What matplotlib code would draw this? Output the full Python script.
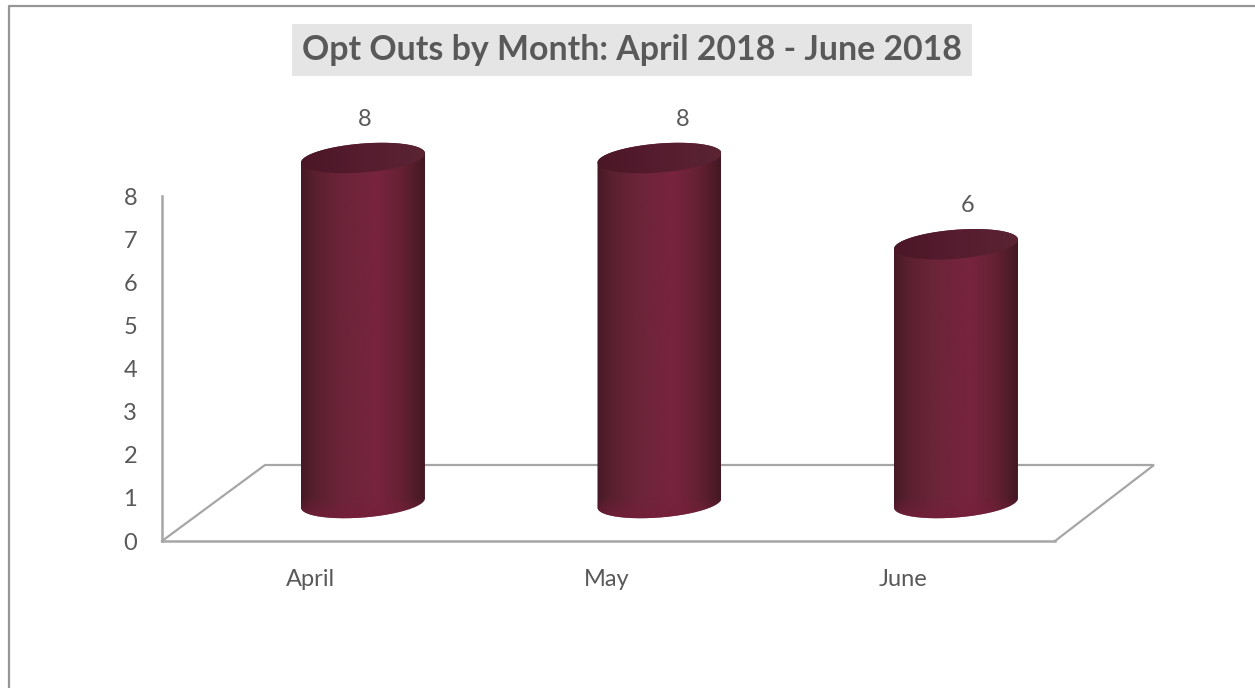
import numpy as np
import matplotlib
matplotlib.use("Agg")
import matplotlib.pyplot as plt
from matplotlib.colors import LinearSegmentedColormap, to_rgb
from matplotlib.lines import Line2D
from matplotlib.patches import PathPatch
from matplotlib.path import Path

months = ["April", "May", "June"]
opt_outs = [8, 8, 6]
y_ticks = [0, 1, 2, 3, 4, 5, 6, 7, 8]
title = "Opt Outs by Month: April 2018 - June 2018"

plt.rcParams["font.family"] = ["Lato", "DejaVu Sans"]
TEXT = "#595959"
GREY = "#a6a6a6"

W, H = 1255, 688
fig = plt.figure(figsize=(W / 100, H / 100), dpi=100)
ax = fig.add_axes([162 / W, (H - 541) / H, 893 / W, 345 / H])

# pixels to data units along each axis
PX = 3 / 893
PY = 8 / 345

# value labels do not sit quite centred over their cylinders
label_nudge = [2, 23, 12]

body_cmap = LinearSegmentedColormap.from_list("body", [
    (0.0, "#451925"), (0.1, "#58202f"), (0.3, "#6a2438"),
    (0.62, "#78243f"), (0.82, "#642133"), (1.0, "#431822")])
cap_cmap = LinearSegmentedColormap.from_list("cap", [
    (0.0, "#4b1727"), (0.5, "#561c2f"), (1.0, "#5a2433")])


def slot(i):
    # category centre along the front edge of the floor
    return (148.5 + 296.5 * i) * PX


def arc(cx, cy, start, stop):
    # sheared ellipse edge, tilted so the right side sits higher
    t = np.linspace(start, stop, 80)
    px = 62 * np.cos(t)
    py = 14.5 * np.sin(t) + 0.075 * px
    return np.column_stack([cx + px * PX, cy + py * PY])


def clip_image(im, patch):
    # the cylinders stick out above the axes box, so only the path clips them
    im.set_clip_box(fig.bbox)
    im.set_clip_path(patch)


def cylinder(i, value):
    cx = slot(i) + 52.5 * PX
    top = value + 38 * PY
    base = 38 * PY

    outline = np.vstack([arc(cx, top, np.pi, 0), arc(cx, base, 0, -np.pi)])
    body = PathPatch(Path(np.vstack([outline, outline[:1]])), fc="none", ec="none", zorder=3)
    ax.add_patch(body)
    extent = (cx - 62 * PX, cx + 62 * PX, base - 20 * PY, top + 20 * PY)
    im = ax.imshow(np.linspace(0, 1, 256)[None, :], cmap=body_cmap, extent=extent,
                   aspect="auto", origin="lower", zorder=3)
    clip_image(im, body)

    # brighter rim along the bottom curve
    glow = np.zeros((64, 1, 4))
    glow[:, :, :3] = to_rgb("#761f3b")
    glow[:, 0, 3] = np.linspace(0.8, 0, 64)
    im2 = ax.imshow(glow, extent=(cx - 62 * PX, cx + 62 * PX, base - 16 * PY, base + 6 * PY),
                    aspect="auto", origin="lower", zorder=3.1)
    clip_image(im2, body)

    cap_pts = arc(cx, top, 0, 2 * np.pi)
    cap = PathPatch(Path(cap_pts), fc="none", ec="none", zorder=4)
    ax.add_patch(cap)
    im3 = ax.imshow(np.linspace(0, 1, 256)[None, :], cmap=cap_cmap, extent=extent,
                    aspect="auto", origin="lower", zorder=4)
    clip_image(im3, cap)

    ax.annotate(str(value), (cx, top), xytext=(label_nudge[i] * 0.72, 39 * 0.72),
                textcoords="offset points", ha="center", va="center", fontsize=17,
                color=TEXT, zorder=5, annotation_clip=False)


# floor of the 3D box
ax.plot([0, 103 * PX, 3 + 99 * PX, 3], [0, 76 * PY, 76 * PY, 0], color=GREY, lw=1.6,
        clip_on=False, zorder=1, solid_joinstyle="miter")

for i, v in enumerate(opt_outs):
    cylinder(i, v)

ax.set_xlim(0, 3)
ax.set_ylim(0, 8)
ax.set_xticks([slot(i) for i in range(len(months))], months)
ax.set_yticks(y_ticks)
ax.tick_params(axis="both", length=0, labelsize=17, labelcolor=TEXT)
ax.tick_params(axis="x", pad=20.5)
ax.tick_params(axis="y", pad=18)
ax.set_facecolor("none")
for s in ["top", "right"]:
    ax.spines[s].set_visible(False)
for s in ["left", "bottom"]:
    ax.spines[s].set_color(GREY)
    ax.spines[s].set_linewidth(1.8)

# chart frame, only the top and left edges fall inside the image
fig.add_artist(Line2D([8.5 / W, 8.5 / W, 1], [0, 1 - 5.5 / H, 1 - 5.5 / H], color="#969696", lw=1.6))

fig.text(632 / W, 1 - 50 / H, title, ha="center", va="center", fontsize=24.4, fontweight="bold",
         color=TEXT, bbox=dict(facecolor="#e5e5e5", edgecolor="none", pad=7))

fig.savefig("out.png", dpi=100)
